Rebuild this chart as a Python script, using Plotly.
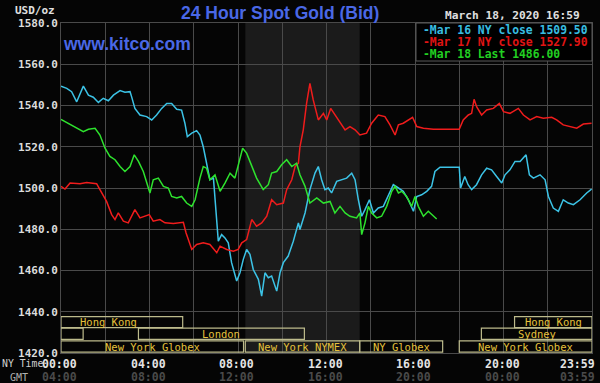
import plotly.graph_objects as go

# ---------------- data ----------------
# hours since 00:00 NY time
mar16_t = [0.0, 0.26, 0.48, 0.71, 1.01, 1.24, 1.46, 1.69, 1.91, 2.14, 2.37, 2.67, 2.89, 3.12, 3.19,
           3.34, 3.57, 3.87, 4.10, 4.32, 4.55, 4.78, 5.00, 5.23, 5.45, 5.60, 5.71, 5.91, 6.13, 6.28,
           6.43, 6.58, 6.73, 6.89, 6.96, 7.11, 7.26, 7.41, 7.56, 7.71, 7.94, 8.09, 8.24, 8.39, 8.54,
           8.69, 8.92, 9.07, 9.22, 9.37, 9.52, 9.75, 9.90, 10.05, 10.27, 10.50, 10.73, 10.80, 11.03,
           11.25, 11.48, 11.63, 11.78, 11.93, 12.08, 12.23, 12.46, 12.68, 12.91, 13.14, 13.29, 13.44,
           13.59, 13.74, 13.94, 14.12, 14.34, 14.57, 14.79, 15.02, 15.25, 15.47, 15.70, 15.93, 16.08,
           16.30, 16.53, 16.75, 16.90, 17.13, 17.58, 18.00, 18.06, 18.25, 18.40, 18.56, 18.78, 19.01,
           19.24, 19.46, 19.69, 19.92, 20.07, 20.29, 20.52, 20.75, 21.02, 21.17, 21.35, 21.65, 21.88,
           22.03, 22.25, 22.48, 22.70, 22.93, 23.16, 23.46, 23.76, 23.98]
mar16_v = [1549.4, 1548.3, 1546.7, 1541.8, 1549.4, 1545.0, 1544.0, 1541.5, 1543.5, 1542.3, 1545.0,
           1547.2, 1546.4, 1546.7, 1544.3, 1538.6, 1535.4, 1534.6, 1533.0, 1535.4, 1538.6, 1541.0,
           1541.0, 1538.2, 1537.8, 1531.4, 1524.9, 1526.6, 1527.8, 1525.7, 1520.0, 1512.0, 1504.0,
           1504.8, 1494.3, 1474.2, 1477.4, 1475.8, 1473.4, 1463.8, 1454.9, 1458.9, 1465.4, 1470.2,
           1467.8, 1460.5, 1455.7, 1447.6, 1458.9, 1456.5, 1457.3, 1450.0, 1458.9, 1463.8, 1467.0,
           1474.2, 1483.1, 1479.9, 1487.9, 1499.2, 1507.2, 1510.4, 1504.0, 1499.2, 1500.0, 1497.6,
           1503.2, 1504.0, 1504.8, 1507.2, 1504.0, 1494.3, 1486.3, 1489.5, 1494.3, 1487.9, 1490.3,
           1491.1, 1495.9, 1501.6, 1500.0, 1498.4, 1494.3, 1488.7, 1495.9, 1496.7, 1498.4, 1500.8,
           1508.0, 1510.1, 1510.1, 1510.1, 1500.0, 1505.6, 1501.6, 1499.2, 1501.6, 1506.4, 1509.6,
           1508.8, 1505.6, 1502.4, 1506.4, 1508.8, 1512.9, 1512.9, 1516.1, 1506.4, 1504.8, 1506.4,
           1504.0, 1495.9, 1490.3, 1488.7, 1494.3, 1492.7, 1491.9, 1494.3, 1497.6, 1499.5]

mar17_t = [0.0, 0.18, 0.41, 0.86, 1.16, 1.61, 1.76, 2.06, 2.29, 2.44, 2.59, 2.82, 3.04, 3.34, 3.57,
           3.80, 3.99, 4.17, 4.47, 4.70, 5.08, 5.53, 5.65, 5.91, 6.13, 6.43, 6.73, 7.04, 7.19, 7.49,
           7.79, 8.01, 8.17, 8.39, 8.62, 8.84, 9.07, 9.30, 9.52, 9.75, 10.05, 10.20, 10.43, 10.58,
           10.73, 10.80, 10.95, 11.10, 11.25, 11.40, 11.63, 11.86, 12.01, 12.19, 12.38, 12.61, 12.84,
           13.06, 13.29, 13.51, 13.81, 14.04, 14.34, 14.64, 14.87, 15.10, 15.25, 15.47, 15.70, 15.89,
           16.08, 16.38, 16.83, 17.43, 18.00, 18.18, 18.41, 18.56, 18.67, 18.79, 19.01, 19.24, 19.54,
           19.81, 20.00, 20.29, 20.67, 20.90, 21.20, 21.50, 21.80, 22.18, 22.40, 22.70, 23.00, 23.31,
           23.61, 23.98]
mar17_v = [1500.8, 1499.5, 1502.4, 1502.1, 1502.7, 1502.1, 1499.2, 1493.5, 1487.1, 1484.7, 1487.9,
           1483.9, 1483.1, 1489.5, 1485.5, 1486.3, 1487.1, 1483.9, 1484.7, 1483.1, 1482.8, 1483.4,
           1478.3, 1470.2, 1472.6, 1473.4, 1472.6, 1468.6, 1471.8, 1470.2, 1469.4, 1470.2, 1473.4,
           1475.0, 1484.7, 1481.5, 1483.1, 1486.3, 1494.3, 1491.9, 1492.7, 1499.2, 1504.0, 1510.4,
           1512.0, 1520.0, 1528.2, 1541.0, 1550.7, 1542.7, 1533.0, 1536.2, 1533.0, 1538.6, 1535.4,
           1532.2, 1528.2, 1529.8, 1528.2, 1525.7, 1526.6, 1531.4, 1535.4, 1534.6, 1530.6, 1525.7,
           1530.6, 1531.4, 1533.0, 1534.3, 1529.8, 1529.0, 1528.5, 1528.5, 1528.5, 1533.0, 1535.4,
           1536.2, 1543.0, 1539.3, 1535.4, 1537.8, 1538.6, 1541.0, 1537.0, 1536.2, 1538.6, 1535.4,
           1533.0, 1534.6, 1533.8, 1534.3, 1533.0, 1530.6, 1529.8, 1529.0, 1531.0, 1531.4]

mar18_t = [0.0, 0.26, 0.56, 1.01, 1.24, 1.54, 1.76, 1.99, 2.21, 2.44, 2.67, 2.89, 3.12, 3.31, 3.50,
           3.72, 3.95, 4.02, 4.17, 4.40, 4.63, 4.85, 5.00, 5.23, 5.45, 5.68, 5.91, 6.06, 6.28, 6.43,
           6.58, 6.73, 6.96, 7.19, 7.41, 7.64, 7.86, 8.09, 8.21, 8.39, 8.62, 8.84, 9.14, 9.37, 9.52,
           9.75, 9.97, 10.20, 10.43, 10.65, 10.80, 11.03, 11.25, 11.56, 11.86, 12.16, 12.38, 12.61,
           12.84, 13.06, 13.36, 13.51, 13.59, 13.74, 13.89, 14.04, 14.27, 14.49, 14.72, 14.95, 15.10,
           15.25, 15.40, 15.62, 15.85, 16.00, 16.15, 16.38, 16.60, 16.83, 16.98]
mar18_v = [1533.3, 1531.7, 1529.8, 1527.3, 1528.5, 1529.0, 1525.7, 1519.3, 1515.3, 1513.7, 1510.4,
           1508.0, 1510.4, 1516.1, 1512.9, 1508.0, 1500.0, 1497.6, 1504.0, 1504.8, 1500.8, 1500.0,
           1495.9, 1495.2, 1495.9, 1492.7, 1491.1, 1494.3, 1504.8, 1510.4, 1509.6, 1504.0, 1506.4,
           1498.4, 1502.4, 1507.2, 1504.8, 1513.7, 1519.3, 1516.9, 1510.4, 1504.8, 1499.2, 1501.6,
           1507.2, 1508.0, 1511.3, 1513.7, 1510.4, 1512.0, 1506.4, 1500.8, 1492.7, 1495.2, 1492.7,
           1493.5, 1487.9, 1491.1, 1487.9, 1486.3, 1485.5, 1487.9, 1477.4, 1483.1, 1491.1, 1487.9,
           1485.5, 1486.3, 1491.1, 1498.4, 1500.8, 1497.6, 1498.4, 1495.9, 1491.1, 1495.9, 1491.1,
           1486.3, 1488.7, 1486.3, 1485.0]

legend_labels = ["Mar 16 NY close 1509.50", "Mar 17 NY close 1527.90", "Mar 18 Last 1486.00"]

x_ticks = [0, 4, 8, 12, 16, 20, 24]
ny_labels = ["00:00", "04:00", "08:00", "12:00", "16:00", "20:00", "23:59"]
gmt_labels = ["04:00", "08:00", "12:00", "16:00", "20:00", "00:00", "03:59"]
y_ticks = [1420, 1440, 1460, 1480, 1500, 1520, 1540, 1560, 1580]

# sessions: name, start hour, end hour, row
session_names = ["Hong Kong", "", "London", "New York Globex", "New York NYMEX", "NY Globex",
                 "New York Globex", "Sydney", "Hong Kong"]
session_start = [0.0, 0.0, 3.5, 0.0, 8.33, 13.5, 18.0, 19.0, 20.5]
session_end = [5.5, 1.0, 11.0, 8.25, 13.5, 17.25, 24.0, 24.0, 24.0]
session_row = [0, 1, 1, 2, 2, 2, 2, 1, 0]
nymex_open, nymex_close = 8.33, 13.5

# ---------------- style ----------------
BG = "#050505"
GRID = "#4a4a4a"
MONO = "DejaVu Sans Mono"
colors = ["#3cc3e6", "#f01c1c", "#2ee22e"]
legend_colors = ["#38bde0", "#e01414", "#22d022"]

fig = go.Figure()
for t, v, c in zip([mar16_t, mar17_t, mar18_t], [mar16_v, mar17_v, mar18_v], colors):
    fig.add_trace(go.Scatter(x=t, y=v, mode="lines", line=dict(color=c, width=1.5),
                             showlegend=False, hoverinfo="skip"))

shapes = []
shapes.append(dict(type="rect", xref="x", yref="paper", x0=nymex_open, x1=nymex_close, y0=0, y1=1,
                   fillcolor="#1b1b1b", line=dict(width=0), layer="below"))
row_y = [(1437.6, 1432.3), (1432.1, 1426.6), (1425.9, 1420.4)]
annotations = []
for name, s, e, r in zip(session_names, session_start, session_end, session_row):
    y1, y0 = row_y[r]
    shapes.append(dict(type="rect", xref="x", yref="y", x0=s, x1=e, y0=y0, y1=y1,
                       line=dict(color="#bdbb8c", width=1.2), fillcolor="rgba(0,0,0,0)", layer="above"))
    if name:
        cx = (s + e) / 2
        if s == 0 and r == 0:
            cx = s + (e - s) * 0.39
        annotations.append(dict(x=cx, y=(y0 + y1) / 2, xref="x", yref="y", text=name,
                                showarrow=False, font=dict(family=MONO, size=10.5, color="#e6c23c")))
# legend box
shapes.append(dict(type="rect", xref="paper", yref="paper", x0=(416 - 61) / 531, x1=1.0,
                   y0=1 - (61 - 23) / 330, y1=1.0, fillcolor="#000000",
                   line=dict(color="#5a5a5a", width=1), layer="above"))
for i, (lab, c) in enumerate(zip(legend_labels, legend_colors)):
    annotations.append(dict(xref="paper", yref="paper", x=(421 - 61) / 531, xanchor="left",
                            y=1 - (7.5 + 11.7 * i) / 330, yanchor="middle", text="<b>-" + lab + "</b>",
                            showarrow=False, font=dict(family=MONO, size=11.4, color=c)))

for h, ny, gm in zip(x_ticks, ny_labels, gmt_labels):
    anchor = "right" if h == 24 else "center"
    xs = 5 if h == 24 else -1.5
    annotations.append(dict(x=h, xref="x", y=-10.5 / 330, yref="paper", yanchor="middle",
                            xanchor=anchor, xshift=xs, text="<b>" + ny + "</b>", showarrow=False,
                            font=dict(family=MONO, size=11.5, color="#e4e4e4")))
    annotations.append(dict(x=h, xref="x", y=-24 / 330, yref="paper", yanchor="middle",
                            xanchor=anchor, xshift=xs, text="<b>" + gm + "</b>", showarrow=False,
                            font=dict(family=MONO, size=11.5, color="#4a4a4a")))
annotations.append(dict(xref="paper", yref="paper", x=-61 / 531, xanchor="left", y=-10.5 / 330,
                        yanchor="middle", text="NY Time", showarrow=False,
                        font=dict(family=MONO, size=9.8, color="#d0d0d0")))
annotations.append(dict(xref="paper", yref="paper", x=-53 / 531, xanchor="left", y=-24 / 330,
                        yanchor="middle", text="GMT", showarrow=False,
                        font=dict(family=MONO, size=10, color="#b0b0b0")))
annotations.append(dict(xref="paper", yref="paper", x=-4 / 531, xanchor="right", y=1 + 13 / 330,
                        yanchor="middle", text="<b>USD/oz</b>", showarrow=False,
                        font=dict(family=MONO, size=11, color="#e0e0e0")))
annotations.append(dict(xref="paper", yref="paper", x=(280 - 61) / 531, xanchor="center",
                        y=1 + 10 / 330, yanchor="middle", text="<b>24 Hour Spot Gold (Bid)</b>",
                        showarrow=False, font=dict(family="Liberation Sans", size=17.5, color="#4a68e6")))
annotations.append(dict(xref="paper", yref="paper", x=(582 - 61) / 531, xanchor="right",
                        y=1 + 7 / 330, yanchor="middle", text="<b>March 18, 2020 16:59</b>",
                        showarrow=False, font=dict(family=MONO, size=11.2, color="#e0e0e0")))
annotations.append(dict(xref="paper", yref="paper", x=0, xanchor="left",
                        y=1 - 21 / 330, yanchor="middle", text="<b>www.kitco.com</b>",
                        showarrow=False, font=dict(family="Liberation Sans", size=17.5, color="#4a68e6")))

fig.update_layout(
    width=600, height=383,
    margin=dict(l=61, r=8, t=23, b=30),
    paper_bgcolor=BG, plot_bgcolor=BG,
    shapes=shapes, annotations=annotations,
    xaxis=dict(range=[0, 24], tickvals=list(range(0, 25, 2)), showticklabels=False,
               showgrid=True, gridcolor=GRID, gridwidth=1, zeroline=False,
               showline=True, mirror=True, linecolor=GRID, linewidth=1, fixedrange=True),
    yaxis=dict(range=[1420, 1580], tickvals=y_ticks, tickformat=".1f",
               tickfont=dict(family=MONO, size=11, color="#dcdcdc", weight="bold"),
               showgrid=True, gridcolor=GRID, gridwidth=1, zeroline=False, ticks="",
               showline=True, mirror=True, linecolor=GRID, linewidth=1, fixedrange=True),
)

fig.write_html("out.html", config={"displayModeBar": False},
               post_script="document.body.style.margin='0';document.body.style.background='#050505';")
